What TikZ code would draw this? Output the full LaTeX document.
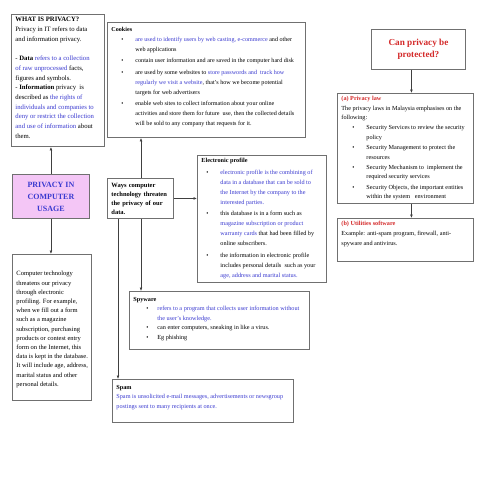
\documentclass[tikz,border=0pt]{standalone}
\usepackage{fontspec}
\setmainfont{Liberation Serif}
\usetikzlibrary{arrows.meta}

\definecolor{txtblue}{HTML}{3A3AD0}
\definecolor{txtred}{HTML}{D42A2A}
\definecolor{boxline}{HTML}{707070}
\definecolor{usagefill}{HTML}{F4C6F6}

\newcommand{\bl}[1]{\textcolor{txtblue}{#1}}
\newcommand{\rd}[1]{\textcolor{txtred}{#1}}
% text block of fixed size, text sits at the top
\newcommand{\boxpar}[3]{\makebox[#1][l]{\parbox[c][#2][t]{\dimexpr#1+30pt\relax}{\raggedright #3}}}
% bullet with hanging indent
\newlength{\bulpre}
\newlength{\bulind}
\newcommand{\bitem}[2][1.6pt]{\par\vspace{#1}\hangindent=\bulind\hangafter=1\noindent\hspace*{\bulpre}\makebox[\dimexpr\bulind-\bulpre\relax][l]{\textbullet}{\let\\\newline #2}}

\tikzset{
  box/.style={draw=boxline, line width=0.9pt, anchor=north west, inner xsep=4pt, inner ysep=3pt,
    font=\fontsize{6.2}{9.6}\selectfont},
  headbox/.style={draw=boxline, line width=0.9pt, anchor=north west, inner sep=2pt, align=center},
  arr/.style={draw=black!75, line width=0.6pt, -{Latex[length=3.5pt,width=2.8pt]}}
}

\begin{document}
\begin{tikzpicture}[x=1pt, y=-1pt]
  \fill[white] (0,0) rectangle (495,495);
  \useasboundingbox (0,0) rectangle (495,495);

  % left column
  \node[box, font=\fontsize{6.7}{9.7}\selectfont] (what) at (11,14) {\boxpar{85pt}{126pt}{%
    \textbf{WHAT IS PRIVACY?}\\
    Privacy in IT refers to data\\
    and information privacy.\par\vspace{9.7pt}
    - \textbf{Data} \bl{refers to a collection}\\
    \bl{of raw unprocessed} facts,\\
    figures and symbols.\\
    - \textbf{Information} privacy\ \ is\\
    described as \bl{the rights of}\\
    \bl{individuals and companies to}\\
    \bl{deny or restrict the collection}\\
    \bl{and use of information} about\\
    them.}};

  \node[headbox, fill=usagefill, minimum width=77pt, minimum height=44pt,
    font=\fontsize{8}{12}\selectfont\bfseries, text=txtblue] (usage) at (12,174)
    {PRIVACY IN\\ COMPUTER\\ USAGE};

  \node[box, font=\fontsize{6.5}{9.2}\selectfont] (comptech) at (12,254) {\boxpar{71pt}{140pt}{%
    \vspace*{14pt}
    Computer technology\\
    threatens our privacy\\
    through electronic\\
    profiling. For example,\\
    when we fill out a form\\
    such as a magazine\\
    subscription, purchasing\\
    products or contest entry\\
    form on the Internet, this\\
    data is kept in the database.\\
    It will include age, address,\\
    marital status and other\\
    personal details.}};

  % middle column
  \node[box, inner ysep=4.5pt, font=\fontsize{6.1}{10}\selectfont] (cookies) at (107,22) {\boxpar{190pt}{106pt}{%
    \setlength{\bulpre}{10pt}\setlength{\bulind}{24pt}%
    \textbf{Cookies}
    \bitem[0pt]{\bl{are used to identify users by web casting, e-commerce} and other\\ web applications}
    \bitem{contain user information and are saved in the computer hard disk}
    \bitem{are used by some websites to \bl{store passwords and\ \ track how}\\ \bl{regularly we visit a website}, that's how we become potential\\ targets for web advertisers}
    \bitem{enable web sites to collect information about your online\\ activities and store them for future\ \ use, then the collected details\\ will be sold to any company that requests for it.}}};

  \node[box, text width=58pt, minimum height=40pt, anchor=north west, align=left,
    font=\fontsize{6.5}{9}\selectfont\bfseries] (ways) at (107,178)
    {Ways computer\\ technology threaten\\ the privacy of our\\ data.};

  \node[box, font=\fontsize{6.2}{10}\selectfont] (ep) at (197,155) {\boxpar{121pt}{121pt}{%
    \setlength{\bulpre}{5pt}\setlength{\bulind}{19pt}%
    \textbf{Electronic profile}
    \bitem[1.5pt]{\bl{electronic profile is the combining of}\\ \bl{data in a database that can be sold to}\\ \bl{the Internet by the company to the}\\ \bl{interested parties.}}
    \bitem{this database is in a form such as\\ \bl{magazine subscription or product}\\ \bl{warranty cards} that had been filled by\\ online subscribers.}
    \bitem{the information in electronic profile\\ includes personal details\ \ such as your\\ \bl{age, address and marital status.}}}};

  \node[box, inner ysep=5.5pt] (spyware) at (129,291) {\boxpar{172pt}{47pt}{%
    \setlength{\bulpre}{13pt}\setlength{\bulind}{24pt}%
    \textbf{Spyware}
    \bitem[0pt]{\bl{refers to a program that collects user information without}\\ \bl{the user's knowledge.}}
    \bitem[0pt]{can enter computers, sneaking in like a virus.}
    \bitem[0pt]{Eg phishing}}};

  \node[box, inner ysep=5.5pt] (spam) at (112,379) {\boxpar{173pt}{32pt}{%
    \textbf{Spam}\\
    \bl{Spam is unsolicited e-mail messages, advertisements or newsgroup}\\
    \bl{postings sent to many recipients at once.}}};

  % right column
  \node[headbox, minimum width=94pt, minimum height=40pt,
    font=\fontsize{9.2}{12.5}\selectfont\bfseries, text=txtred] (protect) at (371,29)
    {Can privacy be\\ protected?};

  \node[box, font=\fontsize{6.2}{9.5}\selectfont] (law) at (337,93) {\boxpar{128pt}{104pt}{%
    \setlength{\bulpre}{11pt}\setlength{\bulind}{25pt}%
    \rd{\textbf{(a) Privacy law}}\\
    The privacy laws in Malaysia emphasises on the\\ following:
    \bitem[0.5pt]{Security Services to review the security\\ policy}
    \bitem[0.8pt]{Security Management to protect the\\ resources}
    \bitem[0.8pt]{Security Mechanism to\ \ implement the\\ required security services}
    \bitem[0.8pt]{Security Objects, the important entities\\ within the system\ \ \ environment}}};

  \node[box] (util) at (337,218) {\boxpar{128pt}{37pt}{%
    \rd{\textbf{(b) Utilities software}}\\
    Example: anti-spam program, firewall, anti-\\ spyware and antivirus.}};

  % connectors
  \coordinate (waysup) at ([xshift=34pt]ways.north west);
  \coordinate (waysdown) at ([xshift=34pt]ways.south west);
  \coordinate (waysspam) at ([xshift=11pt]ways.south west);
  \coordinate (protdown) at ([xshift=-7pt]protect.south);
  \coordinate (lawdown) at (protdown |- law.south);

  \draw[arr] (usage.north) -- (usage.north |- what.south);
  \draw[arr] (usage.south) -- (usage.south |- comptech.north);
  \draw[arr] (waysup) -- (waysup |- cookies.south);
  \draw[arr] (ways.east) -- (ways.east -| ep.west);
  \draw[arr] (waysdown) -- (waysdown |- spyware.north);
  \draw[arr] (waysspam) -- (waysspam |- spam.north);
  \draw[arr] (protdown) -- (protdown |- law.north);
  \draw[arr] (lawdown) -- (lawdown |- util.north);
\end{tikzpicture}
\end{document}
